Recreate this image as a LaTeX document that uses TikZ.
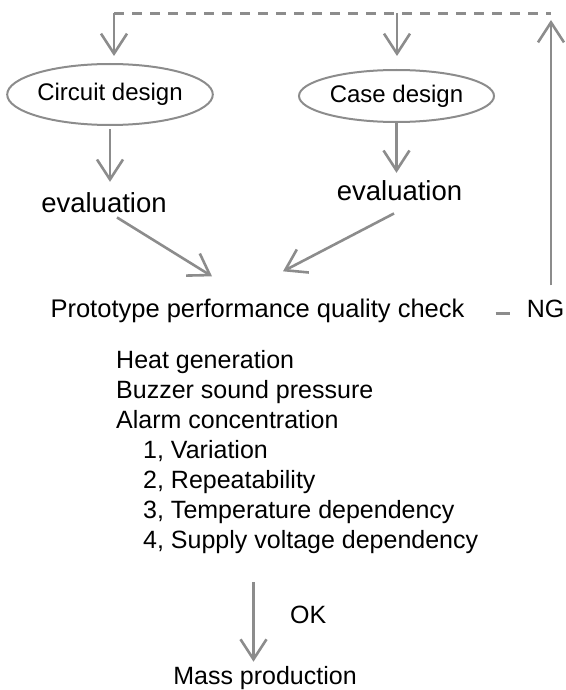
\documentclass[tikz,border=0pt]{standalone}
\usepackage{fontspec}
\setmainfont{Liberation Sans}
\usepackage{xcolor}
\usetikzlibrary{arrows.meta,shapes.geometric,calc}

\definecolor{lineGray}{HTML}{8C8C8C}
\tikzset{
  flowline/.style={draw=lineGray,line width=2.6pt,-{Straight Barb[length=20pt,width=26pt]}},
  loopline/.style={draw=lineGray,line width=2.4pt,dash pattern=on 10pt off 8pt},
  designnode/.style={ellipse,draw=lineGray,line width=2pt,inner sep=0pt,font=\fontsize{24}{28}\selectfont},
  flowtext/.style={inner sep=0pt,font=\fontsize{25}{30}\selectfont},
}

\begin{document}
\begin{tikzpicture}[x=1pt,y=1pt,yscale=-1,xscale=1]
\useasboundingbox (0,0) rectangle (565,690);

\coordinate (loopL) at (114,13.5);
\coordinate (loopM) at (397,13.5);
\coordinate (loopR) at (551,13.5);
\coordinate (okTop) at (253.5,582);

\node[designnode,minimum width=194pt,minimum height=61pt] (circuit) at (110,94.5) {Circuit design};
\node[designnode,minimum width=195pt,minimum height=52pt] (casedes) at (396.5,96) {Case design};

\node[flowtext,font=\fontsize{27.5}{32}\selectfont,anchor=base] (evalL) at (104,212) {evaluation};
\node[flowtext,font=\fontsize{27.5}{32}\selectfont,anchor=base] (evalR) at (399.5,200) {evaluation};

\node[flowtext,font=\fontsize{25.5}{30}\selectfont,anchor=base] (check) at (257.5,317) {Prototype performance quality check};
\node[flowtext,anchor=base] (ng) at (545.5,317) {NG};

\node[flowtext,anchor=base west] (heat) at (116,368) {Heat generation};
\node[flowtext,anchor=base west] (buzzer) at (116,398) {Buzzer sound pressure};
\node[flowtext,anchor=base west] (alarm) at (116,428) {Alarm concentration};
\node[flowtext,anchor=base west] (var) at (143,458) {1, Variation};
\node[flowtext,anchor=base west] (rep) at (143,488) {2, Repeatability};
\node[flowtext,anchor=base west] (temp) at (143,518) {3, Temperature dependency};
\node[flowtext,anchor=base west] (volt) at (143,548) {4, Supply voltage dependency};

\node[flowtext,anchor=base west] (ok) at (290,623) {OK};
\node[flowtext,anchor=base] (mass) at (265,684) {Mass production};

% feedback loop
\draw[loopline] (loopL) -- (loopR);
\draw[flowline,shorten >=7pt] (loopL) -- (loopL |- circuit.north);
\draw[flowline,shorten >=13pt] (loopM) -- (loopM |- casedes.north);
\draw[flowline,shorten <=14pt,shorten >=6.5pt] (ng.north -| loopR) -- (loopR);
\draw[draw=lineGray,line width=2.6pt] ($(check.east)+(31,3)$) -- ($(check.east -| ng.west)+(-17,3)$);

\draw[flowline,shorten <=3pt,shorten >=10pt] (circuit.south) -- (circuit.south |- evalL.north);
\draw[flowline,shorten >=7pt] (casedes.south) -- (casedes.south |- evalR.north);
\draw[flowline] ($(evalL.south)+(13,5)$) -- ($(check.north)+(-45.5,-22)$);
\draw[flowline] ($(evalR.south)+(-5.5,13)$) -- ($(check.north)+(25.5,-27)$);

\draw[flowline,shorten >=4pt] (okTop) -- (okTop |- mass.north);
\end{tikzpicture}
\end{document}
